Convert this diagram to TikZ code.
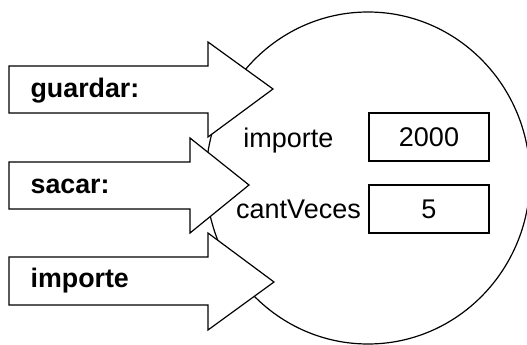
\documentclass[tikz,border=0pt]{standalone}
\usepackage{fontspec}
\setmainfont{Liberation Sans}
\begin{document}
\begin{tikzpicture}[x=1pt,y=-1pt,
  line width=1.2pt,
  arrowshape/.style={draw=black,fill=white,line join=miter},
  lbl/.style={font=\fontsize{26.8}{32}\selectfont\bfseries,anchor=base west,inner sep=0pt},
  txt/.style={font=\fontsize{27}{32}\selectfont,anchor=base,inner sep=0pt},
  valbox/.style={draw=black,minimum width=120pt,minimum height=48pt,inner sep=0pt,font=\fontsize{27}{32}\selectfont}]
\useasboundingbox (0,0) rectangle (527,345);
\clip (0,0) rectangle (527,345);
% object
\draw (368,178) ellipse [x radius=162, y radius=166];
% message arrows
\draw[arrowshape] (9,66) -- (208,66) -- (208,42) -- (273,89) -- (208,137) -- (208,113) -- (9,113) -- cycle;
\draw[arrowshape] (9,257) -- (208,257) -- (208,233) -- (274,282) -- (208,330) -- (208,305) -- (9,305) -- cycle;
\draw[arrowshape] (9,162) -- (190,162) -- (190,138) -- (249,185) -- (190,233) -- (190,209) -- (9,209) -- cycle;
\node[lbl] (guardar) at (30,97) {guardar:};
\node[lbl] (sacar) at (30,193) {sacar:};
\node[lbl] (imparg) at (30,287) {importe};
% attributes
\node[txt] (impname) at (288.5,147) {importe};
\node[txt] (cantname) at (298.5,218) {cantVeces};
\node[valbox] (impval) at (429,137) {2000};
\node[valbox] (cantval) at (429,209) {5};
\end{tikzpicture}
\end{document}
